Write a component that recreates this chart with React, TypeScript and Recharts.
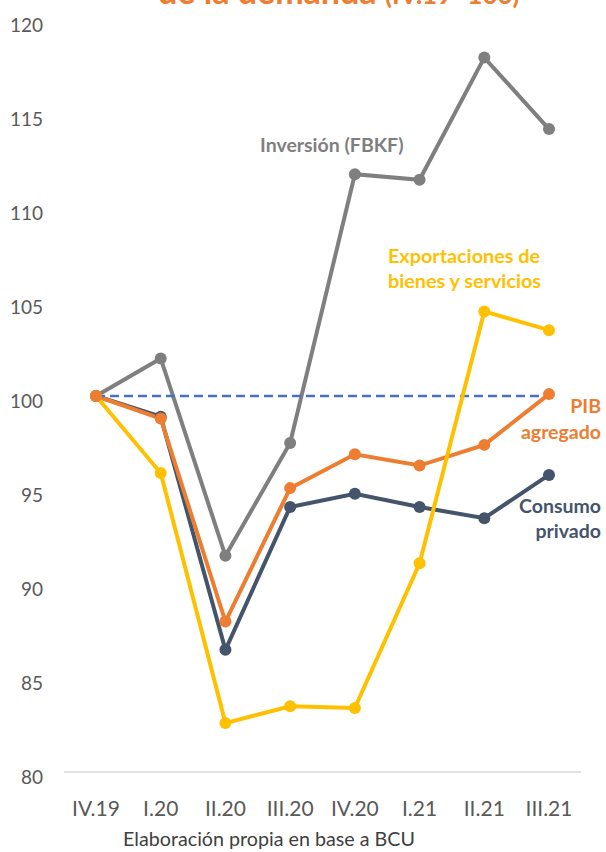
import React from 'react';
import { LineChart, Line, XAxis, YAxis } from 'recharts';

const categories = ['IV.19', 'I.20', 'II.20', 'III.20', 'IV.20', 'I.21', 'II.21', 'III.21'];
const inversion = [100, 102.0, 91.5, 97.5, 111.8, 111.5, 118.0, 114.2];
const consumo = [100, 98.9, 86.5, 94.1, 94.8, 94.1, 93.5, 95.8];
const pib = [100, 98.8, 88.0, 95.1, 96.9, 96.3, 97.4, 100.1];
const exportaciones = [100, 95.9, 82.6, 83.5, 83.4, 91.1, 104.5, 103.5];
const base = [100, 100, 100, 100, 100, 100, 100, 100];
const yTicks = [80, 85, 90, 95, 100, 105, 110, 115, 120];

const data = categories.map((c, i) => ({
  cat: c,
  inversion: inversion[i],
  consumo: consumo[i],
  pib: pib[i],
  exportaciones: exportaciones[i],
  base: base[i],
}));

const FONT = 'Lato, "Open Sans", sans-serif';
const C_GRAY = '#7F7F7F';
const C_NAVY = '#44546A';
const C_ORANGE = '#ED7D31';
const C_YELLOW = '#FFC000';
const C_BLUE = '#4472C4';

const YTick = (props: any) => {
  const { x, y, payload } = props;
  return (
    <text x={x} y={y + 5} dy="0.36em" textAnchor="end" fill="#595959" fontSize={19} fontFamily={FONT}>
      {payload.value}
    </text>
  );
};

const XTick = (props: any) => {
  const { x, y, payload } = props;
  return (
    <text x={x} y={y + 38} textAnchor="middle" fill="#595959" fontSize={21} fontFamily={FONT}>
      {payload.value}
    </text>
  );
};

const lineOnly = (key: string, color: string, width = 4, dash?: string) => (
  <Line
    key={'l-' + key}
    type="linear"
    dataKey={key}
    stroke={color}
    strokeWidth={width}
    strokeDasharray={dash}
    dot={false}
    activeDot={false}
    isAnimationActive={false}
  />
);

const dotsOnly = (key: string, color: string) => (
  <Line
    key={'d-' + key}
    type="linear"
    dataKey={key}
    stroke="none"
    strokeWidth={0}
    dot={{ r: 6, fill: color, stroke: 'none', strokeWidth: 0 }}
    activeDot={false}
    isAnimationActive={false}
  />
);

export default function App() {
  return (
    <div style={{ position: 'absolute', top: 0, left: 0, width: 606, height: 852, background: '#fff', overflow: 'hidden' }}>
      <LineChart width={606} height={852} data={data} margin={{ top: 20, right: 25, left: 0, bottom: 0 }}>
        <XAxis
          dataKey="cat"
          height={80}
          tickLine={false}
          tickMargin={0}
          padding={{ left: 32, right: 32 }}
          axisLine={{ stroke: '#D9D9D9', strokeWidth: 1.5 }}
          tick={<XTick />}
          interval={0}
        />
        <YAxis
          width={64}
          domain={[80, 120]}
          ticks={yTicks}
          axisLine={false}
          tickLine={false}
          tickMargin={15}
          tick={<YTick />}
          interval={0}
        />
        {lineOnly('inversion', C_GRAY)}
        {lineOnly('consumo', C_NAVY)}
        {lineOnly('pib', C_ORANGE)}
        {lineOnly('base', C_BLUE, 2.6, '9 5')}
        {lineOnly('exportaciones', C_YELLOW)}
        {dotsOnly('inversion', C_GRAY)}
        {dotsOnly('consumo', C_NAVY)}
        {dotsOnly('exportaciones', C_YELLOW)}
        {dotsOnly('pib', C_ORANGE)}
      </LineChart>
      <svg width={606} height={852} style={{ position: 'absolute', top: 0, left: 0, pointerEvents: 'none' }}>
        <text x={158} y={4} fill={C_ORANGE} fontFamily={FONT} fontWeight="bold">
          <tspan fontSize={34}>de la demanda </tspan>
          <tspan fontSize={26}>(IV.19=100)</tspan>
        </text>
        <text x={260} y={152} fill={C_GRAY} fontSize={19.5} fontWeight="bold" fontFamily={FONT}>
          Inversión (FBKF)
        </text>
        <text x={388} y={263} fill={C_YELLOW} fontSize={19.8} fontWeight="bold" fontFamily={FONT}>
          Exportaciones de
        </text>
        <text x={388} y={288} fill={C_YELLOW} fontSize={19.8} fontWeight="bold" fontFamily={FONT}>
          bienes y servicios
        </text>
        <text x={601} y={413} textAnchor="end" fill={C_ORANGE} fontSize={19.5} fontWeight="bold" fontFamily={FONT}>
          PIB
        </text>
        <text x={601} y={439} textAnchor="end" fill={C_ORANGE} fontSize={19.5} fontWeight="bold" fontFamily={FONT}>
          agregado
        </text>
        <text x={601} y={513} textAnchor="end" fill={C_NAVY} fontSize={19.5} fontWeight="bold" fontFamily={FONT}>
          Consumo
        </text>
        <text x={601} y={538} textAnchor="end" fill={C_NAVY} fontSize={19.5} fontWeight="bold" fontFamily={FONT}>
          privado
        </text>
        <text x={269} y={846} textAnchor="middle" fill="#404040" fontSize={19.7} fontFamily={FONT}>
          Elaboración propia en base a BCU
        </text>
      </svg>
    </div>
  );
}
